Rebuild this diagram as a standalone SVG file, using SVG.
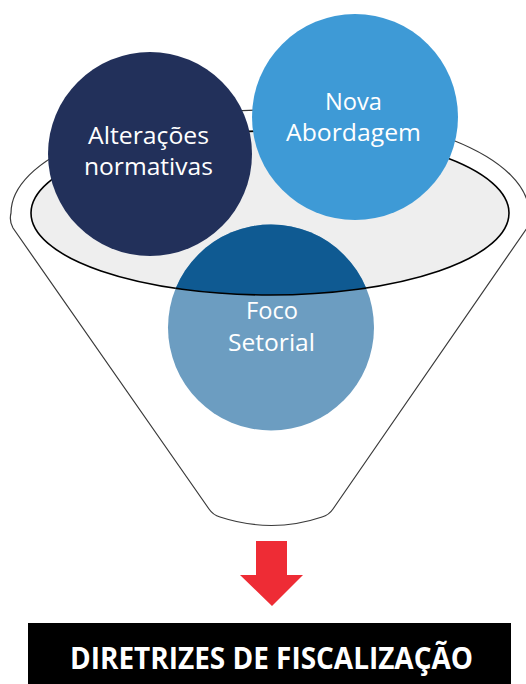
<svg xmlns="http://www.w3.org/2000/svg" width="526" height="684" viewBox="0 0 526 684">
<defs>
<style>
.lbl{font-family:"Open Sans","Liberation Sans",sans-serif;font-size:24px;fill:#ffffff;text-anchor:middle}
.ttl{font-family:"Open Sans","Liberation Sans",sans-serif;font-size:30px;font-weight:bold;fill:#ffffff;text-anchor:middle}
</style>
<clipPath id="innerClip"><ellipse cx="270" cy="213" rx="239" ry="82"/></clipPath>
<clipPath id="focoClip"><circle cx="271" cy="327.5" r="103"/></clipPath>
</defs>
<rect width="526" height="684" fill="#ffffff"/>
<g id="funnel">
<path d="M 13 228 Q 9 221 11 213 A 259 103 0 0 1 529 213 Q 531 221 527 228 L 333 509 Q 329 515 322 517 Q 272 534 220 517 Q 213 515 209 509 Z" fill="#ffffff" stroke="#3a3a3a" stroke-width="1.2"/>
<ellipse cx="270" cy="213" rx="239" ry="82" fill="#eeeeee" stroke="#000000" stroke-width="1.6"/>
</g>
<g id="alteracoes">
<circle cx="150" cy="154" r="102" fill="#22305a"/>
<text class="lbl" x="148.5" y="144" textLength="121" lengthAdjust="spacingAndGlyphs">Alterações</text>
<text class="lbl" x="148.5" y="175" textLength="129" lengthAdjust="spacingAndGlyphs">normativas</text>
</g>
<g id="nova">
<circle cx="355" cy="117" r="103" fill="#3e9ad6"/>
<text class="lbl" x="353.5" y="110" textLength="57" lengthAdjust="spacingAndGlyphs">Nova</text>
<text class="lbl" x="353.5" y="141" textLength="135" lengthAdjust="spacingAndGlyphs">Abordagem</text>
</g>
<g id="foco">
<circle cx="271" cy="327.5" r="103" fill="#6c9dc1"/>
<circle cx="271" cy="327.5" r="103" fill="#0f5a92" clip-path="url(#innerClip)"/>
<ellipse cx="270" cy="213" rx="239" ry="82" fill="none" stroke="#000000" stroke-width="1.6" clip-path="url(#focoClip)"/>
<text class="lbl" x="272" y="319" textLength="52" lengthAdjust="spacingAndGlyphs">Foco</text>
<text class="lbl" x="271.5" y="351" textLength="87" lengthAdjust="spacingAndGlyphs">Setorial</text>
</g>
<g id="connectors">
<path d="M 256 541 L 287 541 L 287 575 L 303 575 L 272 606 L 240 575 L 256 575 Z" fill="#ee2c35"/>
</g>
<g id="diretrizes">
<rect x="28" y="623" width="483" height="61" fill="#000000"/>
<text class="ttl" x="271.5" y="669" textLength="403" lengthAdjust="spacingAndGlyphs">DIRETRIZES DE FISCALIZAÇÃO</text>
</g>
</svg>
